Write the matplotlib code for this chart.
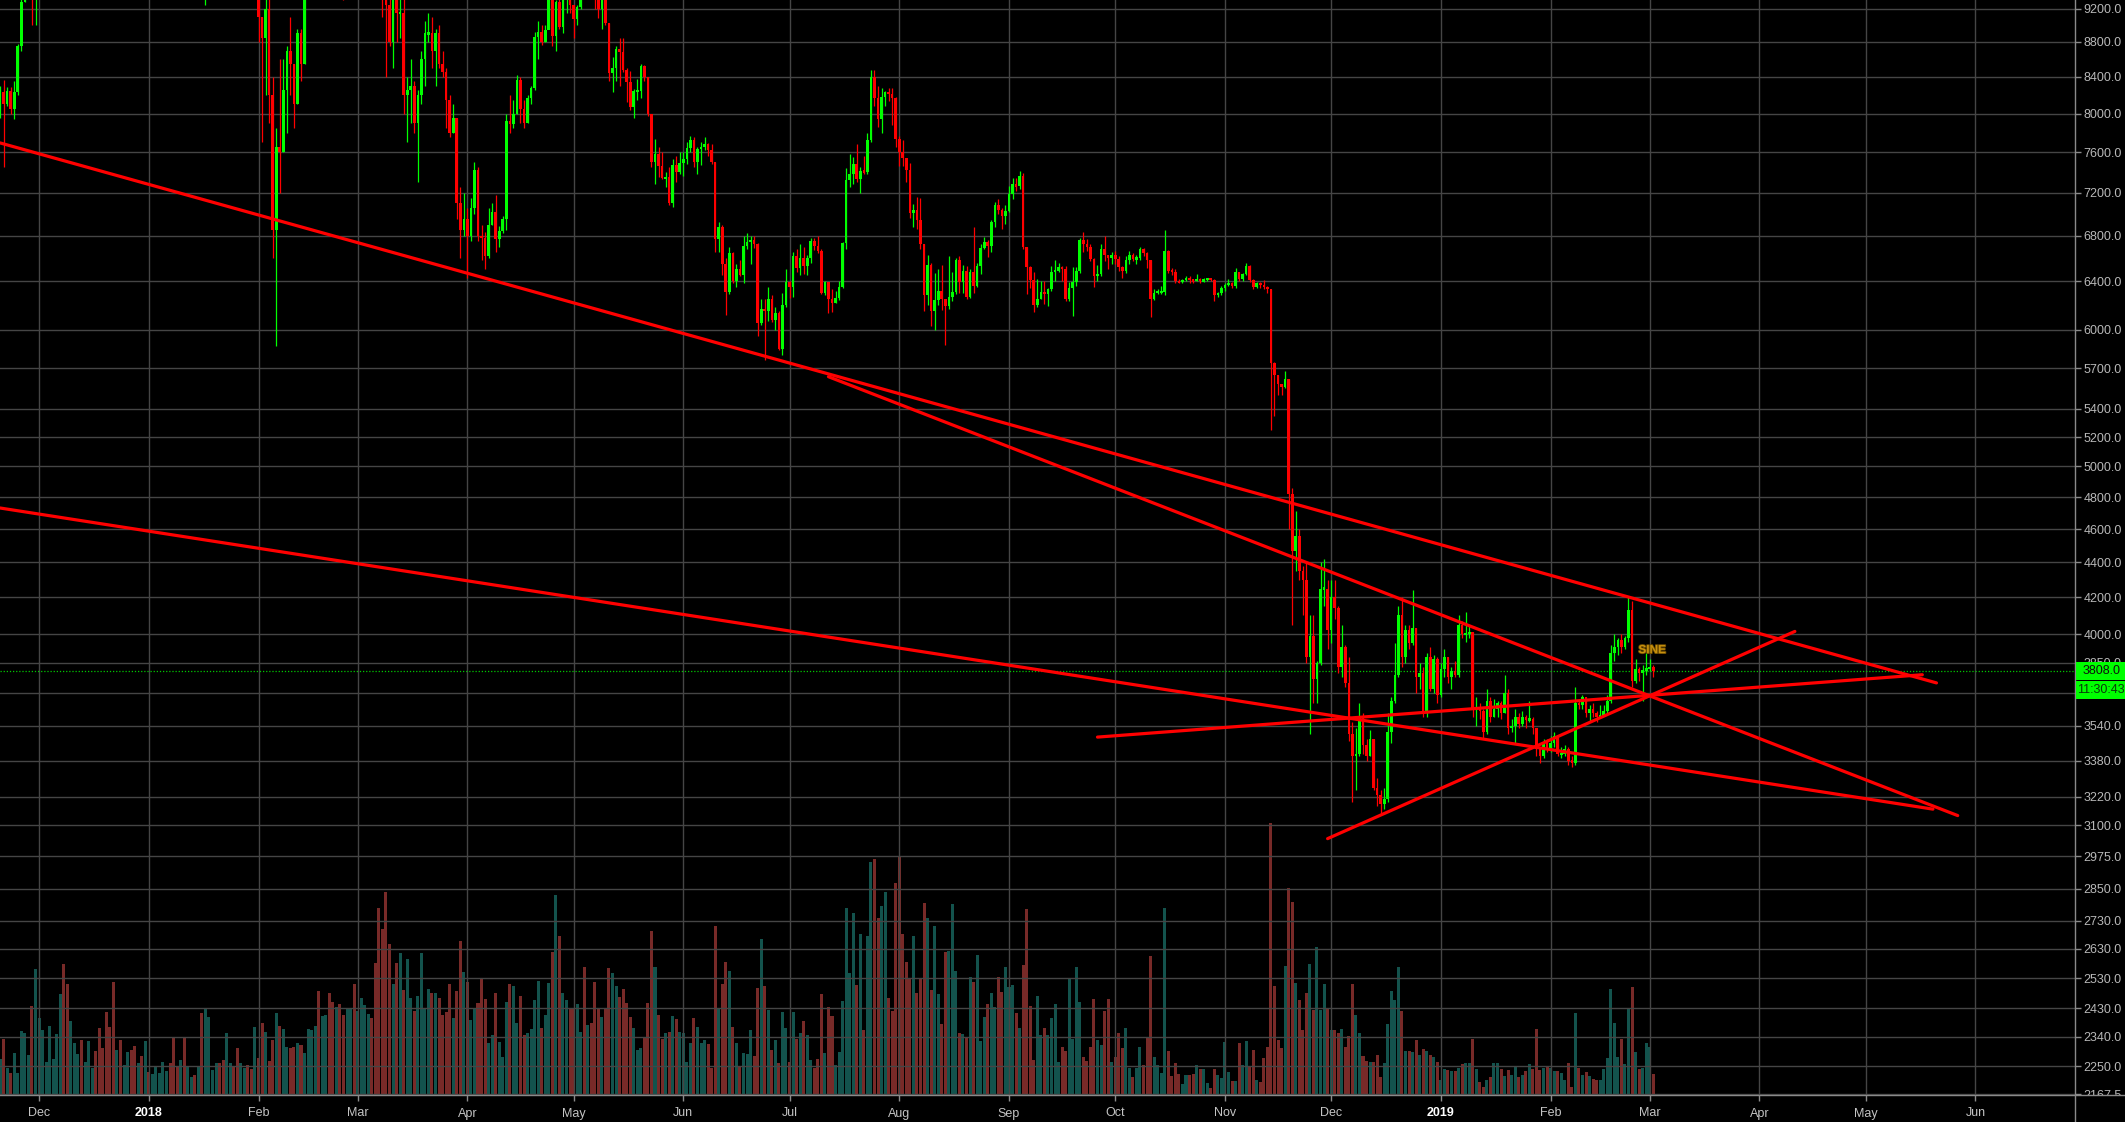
import numpy as np
import pandas as pd
import matplotlib
matplotlib.use("Agg")
import matplotlib.pyplot as plt
import matplotlib.dates as mdates
import matplotlib.ticker as mticker
import matplotlib.patheffects as pe
from matplotlib.lines import Line2D
from matplotlib.patches import Rectangle

plt.rcParams['font.family'] = ['Liberation Sans', 'DejaVu Sans']

# daily BTC/USD candles from 2017-11-20 to 2019-03-02
start_date = '2017-11-20'
first_open = 8040

close = [
    8230, 8100, 8240, 8050, 8230, 8750, 9280, 9720, 9900, 9850, 9950,  # Nov 17
    10850, 10950, 11300, 11600, 11700, 13700, 16900, 16300, 15000, 15300, 16700, 17300, 16400, 16500, 17600,
    19500, 19100, 18900, 17500, 16400, 15600, 13800, 14000, 13800, 13900, 15800, 15400, 14400, 14400, 12700, 14100,
    13400, 14750, 15150, 15150, 16900, 17100, 16200, 15000, 14400, 14900, 13250, 13800, 14200, 13550, 13600,
    11100, 11300, 11500, 11700, 12900, 11600, 10900, 11000, 11400, 11200, 11100, 11500, 11750, 11250, 10100, 10200,
    9100, 8850, 9200, 8200, 6850, 7650, 7600, 8250, 8700, 8550, 8100, 8900, 8550, 9500, 10050,
    10150, 11100, 10400, 11150, 11250, 10450, 9850, 10150, 9650, 9600, 10300, 10600, 10300,
    10950, 11050, 11450, 11500, 11450, 10700, 9900, 9300, 9250, 8800, 9550, 9150, 9150, 8200, 8250,
    8300, 7900, 8200, 8600, 8900, 8900, 8700, 8900, 8550, 8450, 8150, 7800, 7950, 7100, 6850, 6950,
    6800, 7050, 7420, 6800, 6780, 6620, 6900, 7020, 6770, 6840, 6950, 7920, 7890, 8000, 8360,
    8050, 7900, 8170, 8280, 8860, 8920, 8800, 8940, 9650, 8870, 9280, 8980, 9350, 9400, 9240,
    9070, 9220, 9740, 9700, 9850, 9630, 9380, 9200, 9320, 9020, 8440, 8500, 8720, 8680, 8480,
    8340, 8070, 8240, 8240, 8520, 8400, 7990, 7500, 7580, 7460, 7340, 7350, 7100, 7470, 7400, 7490,
    7530, 7640, 7720, 7500, 7630, 7650, 7680, 7620, 7500, 6770, 6880, 6550, 6310, 6640, 6400,
    6500, 6450, 6710, 6740, 6760, 6720, 6050, 6170, 6150, 6250, 6080, 6130, 5850, 6200, 6390,
    6350, 6620, 6510, 6600, 6530, 6600, 6750, 6710, 6660, 6300, 6390, 6250, 6220, 6260, 6350,
    6730, 7320, 7380, 7480, 7330, 7410, 7400, 7720, 8400, 8170, 7940, 8180, 8230, 8210, 8170, 7730,
    7600, 7540, 7420, 7010, 7040, 6940, 6720, 6280, 6540, 6150, 6240, 6320, 6250, 6190, 6270,
    6310, 6580, 6390, 6490, 6270, 6480, 6360, 6530, 6690, 6740, 6710, 6920, 7080, 7040, 6980, 7030,
    7190, 7280, 7260, 7360, 6700, 6520, 6410, 6200, 6250, 6310, 6290, 6330, 6480, 6490, 6520,
    6500, 6250, 6340, 6390, 6490, 6760, 6720, 6700, 6590, 6440, 6460, 6680, 6630, 6600, 6630,
    6590, 6520, 6490, 6580, 6630, 6590, 6600, 6680, 6640, 6580, 6250, 6300, 6310, 6310, 6660,
    6490, 6480, 6400, 6390, 6410, 6420, 6410, 6400, 6420, 6400, 6410, 6420, 6410, 6280, 6300, 6340,
    6370, 6380, 6360, 6480, 6420, 6460, 6530, 6410, 6350, 6380, 6370, 6350, 6330, 5740, 5650,
    5580, 5560, 5620, 4820, 4470, 4560, 4350, 4300, 3880, 3990, 3770, 3850, 4250, 4250, 4020,
    4200, 4140, 3830, 3930, 3750, 3500, 3400, 3410, 3580, 3450, 3400, 3480, 3260, 3230, 3190,
    3210, 3510, 3660, 3790, 4100, 3880, 4020, 3950, 4030, 3780, 3800, 3600, 3880, 3720, 3870, 3690,
    3820, 3880, 3780, 3810, 3790, 4050, 4000, 4000, 4010, 3620, 3630, 3610, 3510, 3660, 3580,
    3620, 3650, 3600, 3700, 3530, 3540, 3580, 3550, 3580, 3570, 3570, 3530, 3430, 3400, 3460, 3430,
    3460, 3490, 3410, 3410, 3430, 3380, 3370, 3650, 3640, 3680, 3600, 3620, 3600, 3580, 3590,
    3610, 3660, 3900, 3930, 3970, 3930, 3980, 4130, 3760, 3820, 3800, 3810, 3820,
    3830, 3808,
]

high = [
    8300, 8370, 8290, 8290, 8350, 8780, 9500, 9730, 9980, 11400, 10700,
    10900, 11150, 11850, 11640, 12000, 13800, 17100, 17300, 16300, 15700, 17400, 17500, 17400, 16900, 17900,
    19600, 19800, 19200, 18900, 17800, 17300, 15800, 15400, 14100, 14400, 16100, 16500, 15400, 15200, 14500, 14200,
    14000, 15400, 15400, 15400, 17100, 17200, 17100, 16300, 15400, 14900, 14900, 14100, 14500, 14400, 14300,
    13600, 11700, 12000, 12000, 13000, 12900, 11900, 11400, 11500, 11700, 11600, 11600, 12000, 11800, 11300, 10400,
    10250, 9100, 9500, 9400, 8400, 7850, 8600, 8600, 8750, 9100, 8550, 8950, 8950, 9500, 10250,
    10300, 11200, 11100, 11250, 11800, 11300, 10900, 10400, 10500, 9850, 10400, 10850, 11050,
    11050, 11200, 11550, 11550, 11700, 11450, 10900, 10100, 9400, 9500, 9750, 9900, 9500, 9400, 8400,
    8600, 8350, 8250, 8700, 9050, 9150, 9100, 8950, 9000, 8700, 8500, 8200, 8100, 7950, 7250, 7200,
    7050, 7150, 7500, 7450, 6900, 6830, 7050, 7100, 7180, 6890, 6980, 8000, 8200, 8150, 8420,
    8400, 8150, 8200, 8300, 8920, 9050, 9000, 9000, 9730, 9750, 9300, 9400, 9450, 9500, 9450,
    9240, 9250, 9800, 9750, 9990, 9900, 9640, 9450, 9370, 9380, 9030, 8630, 8750, 8850, 8850,
    8500, 8470, 8270, 8380, 8550, 8540, 8400, 8000, 7730, 7650, 7600, 7400, 7450, 7530, 7560, 7600,
    7600, 7700, 7760, 7750, 7650, 7700, 7750, 7690, 7680, 7500, 6920, 6900, 6600, 6700, 6650,
    6550, 6580, 6800, 6820, 6800, 6800, 6730, 6250, 6250, 6350, 6280, 6180, 6150, 6300, 6500,
    6400, 6650, 6680, 6720, 6700, 6630, 6780, 6780, 6800, 6680, 6400, 6390, 6330, 6320, 6400,
    6740, 7440, 7580, 7550, 7680, 7450, 7560, 7800, 8480, 8480, 8300, 8280, 8240, 8280, 8280, 8180,
    7760, 7720, 7540, 7490, 7090, 7160, 7150, 6720, 6630, 6560, 6470, 6500, 6540, 6250, 6620,
    6480, 6600, 6620, 6540, 6530, 6500, 6880, 6560, 6720, 6790, 6760, 6940, 7110, 7140, 7050, 7080,
    7260, 7340, 7340, 7410, 7390, 6700, 6530, 6480, 6420, 6400, 6400, 6340, 6530, 6580, 6560,
    6530, 6530, 6390, 6520, 6520, 6780, 6830, 6770, 6720, 6600, 6540, 6720, 6800, 6630, 6650,
    6660, 6620, 6530, 6620, 6660, 6640, 6630, 6700, 6690, 6650, 6580, 6330, 6330, 6360, 6850,
    6670, 6510, 6500, 6420, 6420, 6440, 6440, 6420, 6460, 6430, 6430, 6430, 6420, 6420, 6310, 6360,
    6380, 6420, 6390, 6510, 6480, 6470, 6560, 6540, 6420, 6390, 6390, 6410, 6360, 6330, 5750,
    5650, 5580, 5680, 5620, 4860, 4710, 4600, 4380, 4400, 4100, 4100, 3860, 4400, 4420, 4300,
    4300, 4300, 4150, 4050, 3940, 3880, 3560, 3530, 3650, 3600, 3480, 3520, 3480, 3300, 3250,
    3260, 3600, 3680, 3950, 4150, 4200, 4050, 4050, 4240, 4030, 3850, 3830, 3900, 3930, 3890, 3880,
    3850, 3920, 3880, 3830, 3860, 4100, 4070, 4120, 4050, 4010, 3680, 3650, 3620, 3720, 3680,
    3670, 3660, 3660, 3790, 3720, 3570, 3620, 3600, 3610, 3590, 3660, 3580, 3530, 3440, 3480, 3480,
    3490, 3510, 3490, 3440, 3450, 3440, 3400, 3730, 3670, 3690, 3680, 3640, 3650, 3610, 3640,
    3640, 3690, 3940, 4000, 3980, 4000, 3990, 4200, 4180, 3870, 3830, 3840, 3900,
    3870, 3840,
]

low = [
    7950, 7450, 8080, 8000, 7940, 8200, 8700, 9280, 9650, 9000, 9000,
    9400, 10700, 10550, 10900, 11400, 11700, 13700, 13900, 13200, 13000, 15300, 16600, 15900, 16000, 16300,
    17500, 18800, 17800, 16400, 15100, 14900, 11000, 13500, 12600, 13200, 13900, 14900, 13700, 14100, 12500, 12700,
    12800, 13000, 14600, 14000, 14900, 16200, 16000, 13900, 14200, 13100, 12500, 12800, 13800, 13100, 13400,
    10000, 9250, 10700, 11200, 11700, 11100, 10100, 10000, 10700, 10900, 10300, 10900, 11500, 11100, 9900, 9700,
    8800, 7700, 8200, 7900, 6600, 5870, 7200, 7600, 7800, 8200, 7850, 8100, 8350, 8550, 9350,
    9700, 10100, 10100, 10300, 11100, 10300, 9800, 9600, 9400, 9300, 9400, 10150, 10250,
    10250, 10800, 11050, 11050, 11400, 10600, 9400, 9100, 8400, 8750, 8500, 8800, 8850, 8000, 7700,
    7900, 7800, 7300, 8100, 8300, 8800, 8500, 8300, 8500, 8400, 7850, 7750, 7800, 6950, 6600, 6800,
    6430, 6750, 7000, 6750, 6580, 6500, 6600, 6900, 6650, 6700, 6820, 6850, 7800, 7850, 8000,
    7900, 7850, 7900, 8100, 8250, 8600, 8760, 8800, 8950, 8750, 8700, 8950, 8900, 9150, 9150,
    8850, 9000, 9200, 9550, 9700, 9480, 9200, 9080, 8950, 9000, 8350, 8230, 8350, 8300, 8450,
    8120, 8040, 7950, 8150, 8170, 8350, 7970, 7450, 7280, 7350, 7330, 7250, 7080, 7060, 7300, 7380,
    7360, 7480, 7600, 7450, 7380, 7470, 7620, 7560, 7480, 6650, 6650, 6450, 6120, 6290, 6380,
    6350, 6440, 6380, 6680, 6550, 6690, 5950, 6040, 5760, 6070, 6060, 6000, 5840, 5800, 6180,
    6260, 6270, 6480, 6450, 6460, 6450, 6560, 6670, 6640, 6290, 6280, 6130, 6140, 6220, 6240,
    6340, 6680, 7250, 7280, 7300, 7200, 7380, 7380, 7700, 8080, 7860, 7800, 8080, 8140, 7880, 7650,
    7460, 7460, 7300, 6960, 6880, 6860, 6680, 6150, 6200, 6030, 6000, 6200, 6160, 5880, 6170,
    6230, 6290, 6300, 6300, 6250, 6260, 6300, 6350, 6460, 6680, 6610, 6650, 6880, 7000, 6860, 6910,
    7020, 7140, 7220, 7240, 6680, 6290, 6340, 6140, 6180, 6250, 6210, 6190, 6320, 6400, 6480,
    6400, 6230, 6230, 6110, 6360, 6470, 6650, 6660, 6570, 6350, 6400, 6440, 6570, 6500, 6550,
    6550, 6490, 6430, 6470, 6550, 6570, 6550, 6580, 6620, 6510, 6100, 6240, 6290, 6290, 6280,
    6470, 6450, 6380, 6380, 6380, 6400, 6380, 6380, 6400, 6380, 6390, 6400, 6400, 6230, 6270, 6280,
    6320, 6360, 6340, 6340, 6400, 6400, 6450, 6390, 6330, 6340, 6340, 6330, 6300, 5250, 5350,
    5500, 5500, 5550, 4600, 4050, 4350, 4300, 4100, 3850, 3500, 3650, 3650, 3840, 4150, 3920,
    3950, 4080, 3800, 3780, 3730, 3470, 3200, 3250, 3400, 3410, 3380, 3400, 3250, 3180, 3150,
    3170, 3200, 3460, 3650, 3780, 3830, 3850, 3920, 3940, 3700, 3720, 3580, 3580, 3710, 3700, 3650,
    3680, 3780, 3750, 3720, 3780, 3780, 3980, 3960, 3980, 3580, 3540, 3570, 3480, 3500, 3560,
    3580, 3580, 3570, 3600, 3500, 3510, 3460, 3530, 3540, 3530, 3560, 3500, 3400, 3370, 3390, 3420,
    3420, 3440, 3400, 3390, 3400, 3360, 3350, 3360, 3620, 3620, 3580, 3560, 3580, 3560, 3580,
    3590, 3600, 3650, 3860, 3890, 3900, 3920, 3960, 3730, 3750, 3760, 3660, 3790,
    3810, 3780,
]

# volume in thousands (arbitrary units)
volume = [
    36, 56, 27, 22, 42, 22, 64, 62, 40, 89, 126,
    77, 65, 33, 69, 36, 61, 101, 131, 111, 74, 52, 41, 55, 33, 54,
    27, 44, 67, 47, 83, 68, 113, 45, 55, 30, 43, 45, 49, 32, 39, 54,
    23, 21, 28, 22, 33, 24, 32, 58, 28, 35, 57, 28, 18, 20, 28,
    82, 87, 78, 25, 32, 32, 35, 62, 32, 28, 47, 32, 27, 30, 26, 68,
    37, 72, 63, 34, 55, 82, 69, 66, 48, 47, 48, 52, 50, 42, 66,
    65, 69, 104, 79, 80, 102, 93, 88, 91, 80, 87, 86, 111,
    84, 97, 90, 81, 77, 132, 187, 166, 203, 151, 111, 132, 142, 105, 136,
    97, 84, 99, 142, 87, 106, 102, 102, 97, 80, 83, 111, 77, 104, 154, 123,
    113, 75, 87, 92, 117, 96, 52, 60, 102, 53, 38, 93, 111, 109, 72,
    99, 60, 62, 66, 95, 114, 67, 80, 112, 143, 200, 159, 102, 95, 87,
    86, 91, 63, 128, 70, 72, 113, 87, 78, 87, 127, 122, 109, 98, 106,
    92, 78, 67, 45, 47, 58, 92, 164, 128, 80, 56, 62, 63, 79, 76, 63,
    62, 33, 52, 77, 68, 52, 55, 51, 27, 169, 87, 111, 133, 124, 68,
    52, 28, 42, 41, 65, 39, 107, 156, 109, 85, 45, 55, 32, 83, 67,
    33, 83, 56, 62, 74, 60, 35, 27, 36, 101, 42, 88, 79, 30, 43,
    94, 187, 122, 182, 110, 161, 65, 159, 233, 236, 177, 189, 203, 97, 84, 212,
    239, 161, 133, 117, 159, 102, 117, 192, 177, 105, 169, 101, 71, 143, 144,
    191, 124, 62, 61, 57, 118, 113, 140, 54, 78, 91, 102, 88, 118, 103, 128,
    108, 110, 82, 67, 130, 186, 89, 35, 99, 60, 67, 60, 77, 91, 33,
    48, 44, 117, 56, 128, 93, 38, 34, 48, 96, 55, 50, 84, 96, 33,
    38, 62, 47, 67, 27, 18, 27, 48, 30, 57, 139, 38, 30, 22, 187,
    44, 19, 32, 21, 11, 20, 20, 21, 30, 26, 26, 12, 7, 26, 20, 17,
    53, 23, 14, 14, 52, 30, 54, 28, 45, 15, 13, 37, 48, 272, 109,
    55, 47, 129, 207, 193, 112, 95, 65, 102, 131, 85, 148, 85, 111, 87,
    65, 65, 62, 66, 48, 59, 111, 80, 62, 39, 34, 33, 33, 40, 18,
    32, 71, 104, 95, 128, 84, 44, 44, 43, 55, 40, 46, 44, 40, 38, 33,
    15, 26, 25, 24, 24, 27, 31, 32, 32, 56, 26, 13, 8, 15, 18,
    32, 32, 26, 19, 25, 20, 29, 18, 20, 24, 31, 26, 66, 25, 27, 28,
    27, 24, 24, 22, 15, 32, 8, 82, 27, 20, 23, 19, 16, 15, 15,
    26, 37, 106, 72, 38, 56, 31, 87, 108, 43, 26, 27, 52,
    48, 21,
]

price_ticks = [9200, 8800, 8400, 8000, 7600, 7200, 6800, 6400, 6000, 5700, 5400, 5200,
               5000, 4800, 4600, 4400, 4200, 4000, 3850, 3700, 3540, 3380, 3220, 3100,
               2975, 2850, 2730, 2630, 2530, 2430, 2340, 2250, 2167.5]
hidden_tick = 3700  # sits under the countdown tag

month_ticks = ['2017-12-01', '2018-01-01', '2018-02-01', '2018-03-01', '2018-04-01',
               '2018-05-01', '2018-06-01', '2018-07-01', '2018-08-01', '2018-09-01',
               '2018-10-01', '2018-11-01', '2018-12-01', '2019-01-01', '2019-02-01',
               '2019-03-01', '2019-04-01', '2019-05-01', '2019-06-01']
month_labels = ['Dec', '2018', 'Feb', 'Mar', 'Apr', 'May', 'Jun', 'Jul', 'Aug', 'Sep',
                'Oct', 'Nov', 'Dec', '2019', 'Feb', 'Mar', 'Apr', 'May', 'Jun']

# drawn trend lines: (start date, start price, end date, end price)
trend_lines = [
    ('2017-11-20', 7693, '2019-05-21', 3748),
    ('2017-11-20', 4731, '2019-05-20', 3168),
    ('2018-07-12', 5635, '2019-05-27', 3141),
    ('2018-11-30', 3046, '2019-04-11', 4014),
    ('2018-09-26', 3487, '2019-05-17', 3789),
]

last_price = 3808.0
countdown = '11:30:43'
note_text = 'SINE'
note_date = '2019-02-26'
note_price = 3915

# ---------------------------------------------------------------
W, H = 2125, 1122
fig = plt.figure(figsize=(W / 100, H / 100), dpi=100, facecolor='black')
rect = [0, 27 / H, 2074 / W, 1095 / H]

vax = fig.add_axes(rect)
vax.set_facecolor('black')
ax = fig.add_axes(rect)
ax.patch.set_alpha(0)

x = mdates.date2num(pd.date_range(start_date, periods=len(close), freq='D'))
c = np.array(close, dtype=float)
o = np.array([first_open] + close[:-1], dtype=float)
hi = np.array(high, dtype=float)
lo = np.array(low, dtype=float)
up = c >= o

jan1 = mdates.date2num(pd.Timestamp('2018-01-01'))
xlim = (jan1 - 42.03, jan1 + 543.85)

# volume underneath
vcol = np.where(up, '#13534d', '#782a28')
vax.bar(x, volume, width=0.85, color=vcol, linewidth=0)
vax.set_xlim(xlim)
vax.set_ylim(0, max(volume) * 4.03)
vax.axis('off')

# candles
ccol = np.where(up, '#00ff00', '#ff0000')
ax.set_yscale('log')
ax.vlines(x, lo, hi, colors=ccol, linewidth=0.9, zorder=3)
b_lo = np.minimum(o, c)
b_hi = np.maximum(o, c)
mid = np.sqrt(b_lo * b_hi)
ratio = np.maximum(b_hi / b_lo, 1.003)
b_lo = mid / np.sqrt(ratio)
b_hi = mid * np.sqrt(ratio)
ax.bar(x, b_hi - b_lo, bottom=b_lo, width=0.74, color=ccol, linewidth=0, zorder=3)

for d0, p0, d1, p1 in trend_lines:
    ax.plot(mdates.date2num([pd.Timestamp(d0), pd.Timestamp(d1)]), [p0, p1],
            color='#ff0000', linewidth=2.3, solid_capstyle='round', zorder=4)

ax.axhline(last_price, color='#00c800', linewidth=0.9, linestyle=(0, (1, 1.5)), zorder=2)

ax.text(mdates.date2num(pd.Timestamp(note_date)) - 0.2, note_price, note_text,
        fontsize=8.5, fontweight='bold', color='#c8900e', ha='left', va='center', zorder=5,
        path_effects=[pe.withStroke(linewidth=1.2, foreground='#6a4a00')])

ax.set_xlim(xlim)
ax.set_ylim(2165, 9306)

ax.yaxis.set_major_locator(mticker.FixedLocator(price_ticks))
ax.yaxis.set_minor_locator(mticker.NullLocator())
ax.yaxis.set_major_formatter(mticker.FuncFormatter(
    lambda v, p: '' if v == hidden_tick else '%.1f' % v))
ax.yaxis.tick_right()
ax.tick_params(axis='y', which='major', direction='out', length=5, width=1, color='#8a8a8a',
               labelcolor='#b8b8b8', labelsize=9, pad=2)

ax.set_xticks(mdates.date2num(pd.to_datetime(month_ticks)))
ax.set_xticklabels(month_labels)
ax.xaxis.set_minor_locator(mticker.NullLocator())
ax.tick_params(axis='x', direction='out', length=4, width=1, color='#8a8a8a',
               labelcolor='#c4c4c4', labelsize=9, pad=5)
for lab in ax.get_xticklabels():
    if lab.get_text().isdigit():
        lab.set_color('#ffffff')
        lab.set_fontweight('bold')

ax.set_axisbelow(True)
ax.grid(True, color='#454545', linewidth=1.0)
for s in ['top', 'left', 'right', 'bottom']:
    ax.spines[s].set_visible(False)

# hide the lower half of the bottom price label, then the axis lines
fig.add_artist(Rectangle((2074 / W, 0), 1 - 2074 / W, 27 / H, transform=fig.transFigure,
                         facecolor='black', edgecolor='none', zorder=1))
fig.add_artist(Line2D([0, 1], [27 / H, 27 / H], transform=fig.transFigure,
                      color='#8a8a8a', linewidth=1, zorder=2))
fig.add_artist(Line2D([2074.5 / W, 2074.5 / W], [0, 1], transform=fig.transFigure,
                      color='#8a8a8a', linewidth=1, zorder=2))

# last price and countdown tags
fig.canvas.draw()
ypix = ax.transData.transform((xlim[0], last_price))[1]
tag_h = 18
fig.add_artist(Rectangle((2076 / W, (ypix - tag_h / 2) / H), 1, tag_h / H, transform=fig.transFigure,
                         facecolor='#00ff00', edgecolor='none', zorder=3))
fig.add_artist(Rectangle((2076 / W, (ypix - tag_h / 2 - 1 - tag_h) / H), 1, tag_h / H,
                         transform=fig.transFigure, facecolor='#00ff00', edgecolor='none', zorder=3))
fig.text(2083 / W, ypix / H, '%.1f' % last_price, color='#101010', fontsize=9,
         ha='left', va='center', zorder=4)
fig.text(2101 / W, (ypix - tag_h - 1) / H, countdown, color='#0a3a0a', fontsize=9,
         ha='center', va='center', zorder=4)

fig.savefig('out.png', dpi=100, facecolor='black')
